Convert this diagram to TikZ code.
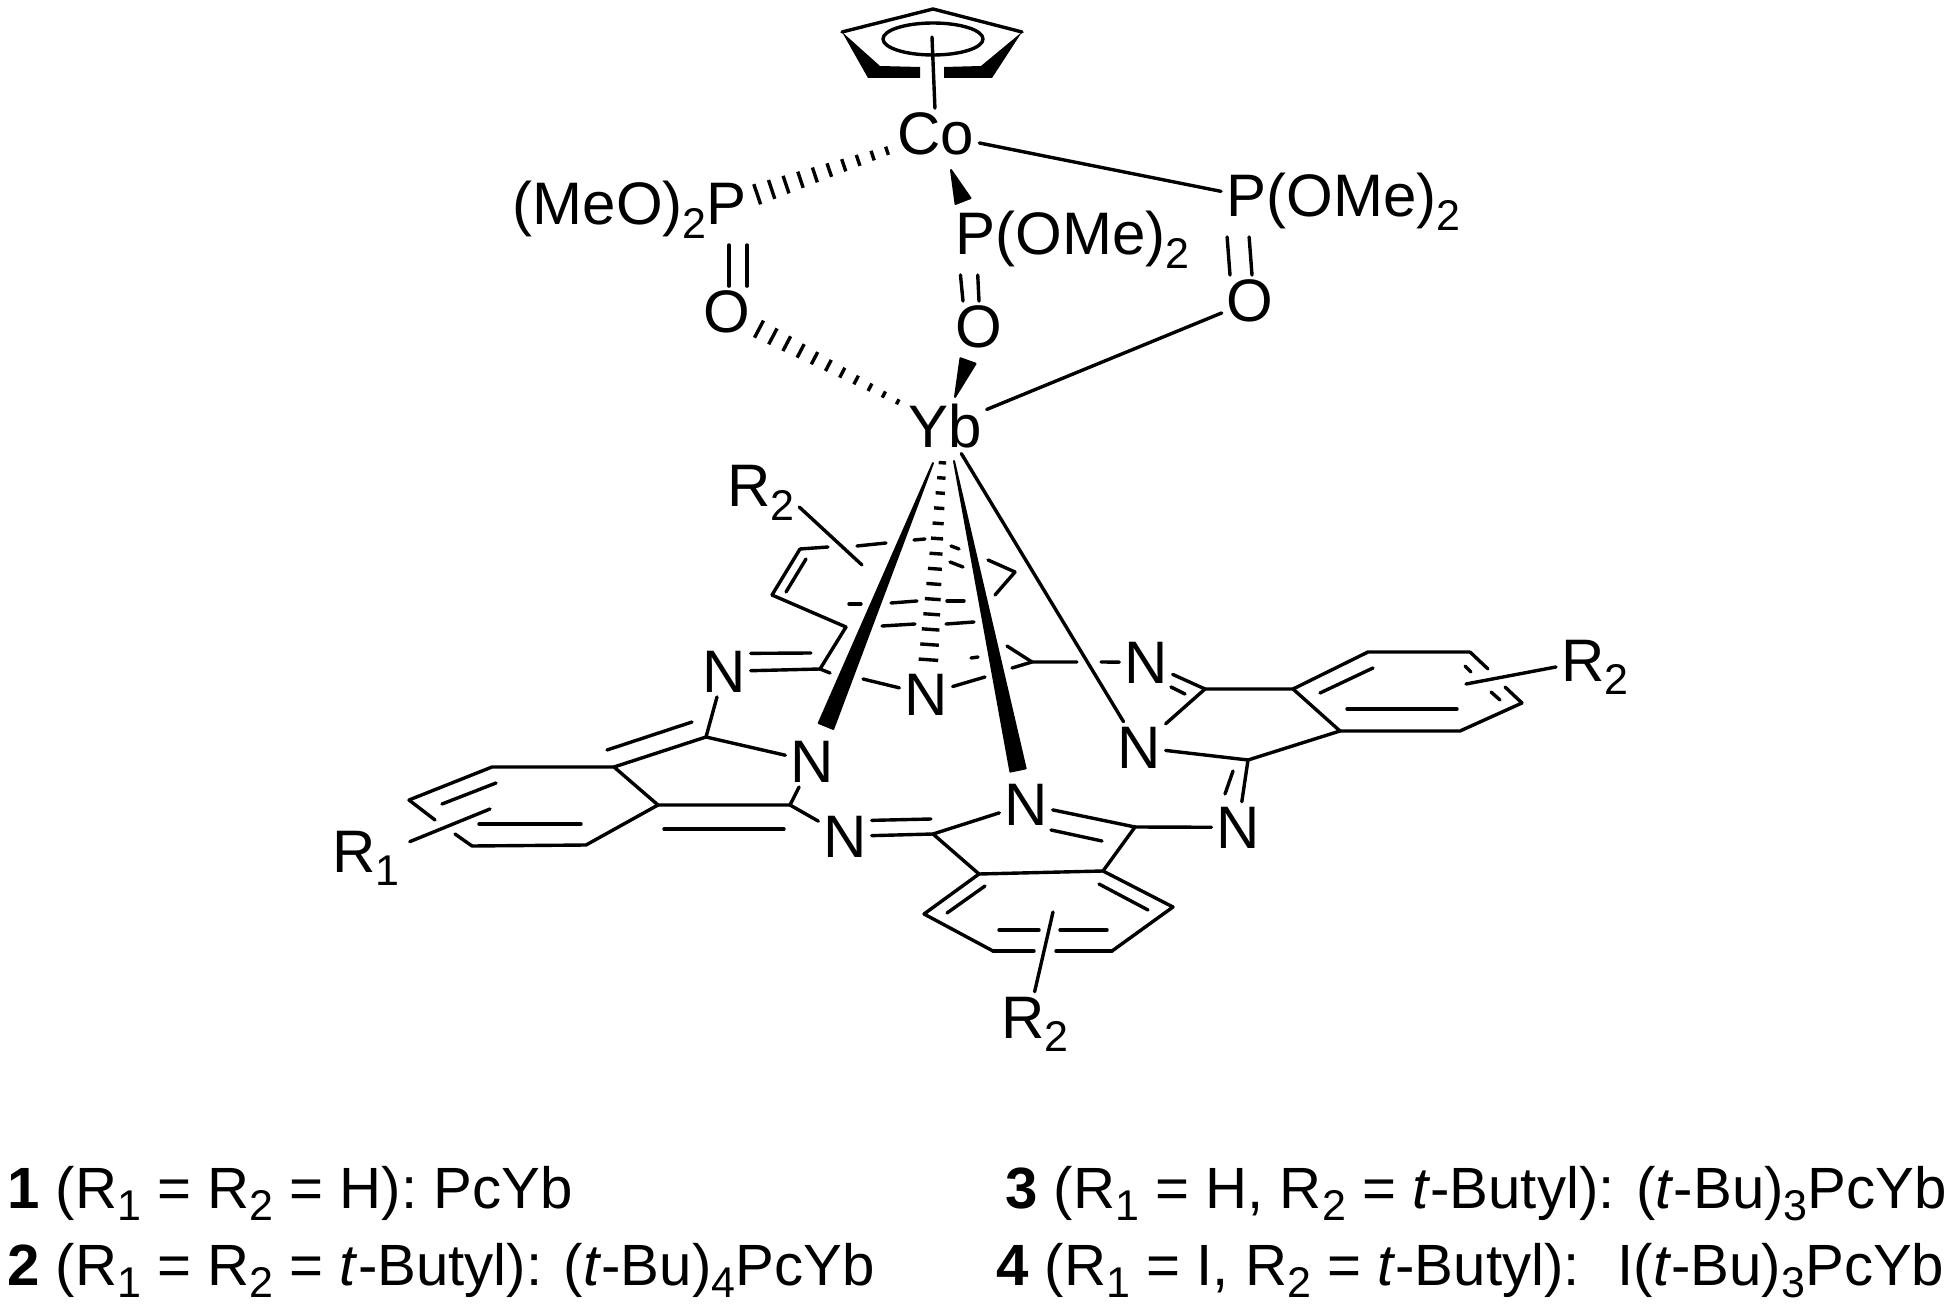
\documentclass[tikz,border=0pt]{standalone}
\usepackage{fontspec}
\setmainfont{Liberation Sans}
\usetikzlibrary{calc}
\newcommand{\chemfont}{\fontsize{30pt}{36pt}\selectfont}
\newcommand{\legfont}{\fontsize{29.1pt}{35pt}\selectfont}
\newcommand{\sbs}[1]{\raisebox{-.22em}{\fontsize{21.5pt}{24pt}\selectfont #1}}
\newcommand{\hashbond}[5]{%
\foreach \i in {1,...,#3} {
\pgfmathsetmacro{\hpos}{(\i-0.5)/#3}
\pgfmathsetmacro{\hwid}{#4+(#5-#4)*\hpos}
\draw [hash] ($(#1)!\hpos!(#2)!\hwid pt!90:(#2)$) -- ($(#1)!\hpos!(#2)!\hwid pt!-90:(#2)$);
}}
\newcommand{\wedgebond}[3]{\filldraw [line width=1pt,line join=round] (#1) -- ($(#2)!#3!90:(#1)$) -- ($(#2)!#3!-90:(#1)$) -- cycle;}
\tikzset{
atom/.style={anchor=base,inner sep=0pt,outer sep=2.5pt,font=\chemfont},
tail/.style={anchor=base west,inner sep=0pt,font=\chemfont},
legend/.style={anchor=base west,inner sep=0pt,font=\legfont},
bond/.style={line width=1.7pt,line cap=round,line join=round},
hash/.style={line width=1.7pt},
pobond/.style={bond,shorten <=7.5pt}
}
\begin{document}
\begin{tikzpicture}[x=0.5pt,y=-0.5pt]
\useasboundingbox (0,0) rectangle (1960,1310);
% the atoms
\node [atom] (co) at (936,155) {Co};
\node [atom] (pl) at (727,225) {P};
\node [tail,anchor=base east] (meol) at (707,225) {(MeO)\sbs{2}};
\node [atom] (pm) at (975,255) {P};
\node [tail] (omem) at (995,255) {(OMe)\sbs{2}};
\node [atom] (pr) at (1246,217) {P};
\node [tail] (omer) at (1266,217) {(OMe)\sbs{2}};
\node [atom] (ol) at (727,333) {O};
\node [atom] (om) at (979,348) {O};
\node [atom] (or) at (1250,322) {O};
\node [atom] (yb) at (945,448) {Yb};
\node [atom] (nl) at (724,692) {N};
\node [atom] (nc) at (926,715) {N};
\node [atom] (nu) at (1146,683) {N};
\node [atom] (nd) at (1139,768) {N};
\node [atom] (na) at (812,782) {N};
\node [atom] (nb) at (845,857) {N};
\node [atom] (ne) at (1026,825) {N};
\node [atom] (nf) at (1238,848) {N};
\node [atom,anchor=base west] (rtwoa) at (722,507) {R\sbs{2}};
\node [atom,anchor=base west] (rone) at (327,872) {R\sbs{1}};
\node [atom,anchor=base west] (rtwob) at (996,1038) {R\sbs{2}};
\node [atom,anchor=base west] (rtwoc) at (1556,681) {R\sbs{2}};

% the carbons
\coordinate (ca) at (820,669);
\coordinate (cb) at (706,737);
\coordinate (cc) at (614,767);
\coordinate (cd) at (658,805);
\coordinate (ce) at (790,805);
\coordinate (cf) at (492,767);
\coordinate (cg) at (409,800);
\coordinate (ch) at (472,846);
\coordinate (ci) at (586,845);
\coordinate (cj) at (933,834);
\coordinate (ck) at (979,874);
\coordinate (cl) at (924,914);
\coordinate (cm) at (993,951);
\coordinate (cn) at (1112,951);
\coordinate (co1) at (1173,907);
\coordinate (cp) at (1103,871);
\coordinate (cq) at (1135,827);
\coordinate (cr) at (1248,760);
\coordinate (cs) at (1340,731);
\coordinate (ct) at (1293,689);
\coordinate (cu) at (1205,689);
\coordinate (cv) at (1460,731);
\coordinate (cw) at (1522,703);
\coordinate (cx) at (1470,652);
\coordinate (cy) at (1368,652);
\coordinate (cz) at (1032,662);

% the cyclopentadienyl
\draw [bond] (842,32) -- (933,9) -- (1022,32);
\fill (842,32) -- (868,78) -- (920,78) -- (920,67) -- (880,66) -- cycle;
\fill (1022,32) -- (992,78) -- (944,78) -- (944,67) -- (981,66) -- cycle;
\draw [bond] (933,39) ellipse [x radius=50,y radius=16];
\coordinate (cpc) at (932,37);
\draw [bond] (cpc) -- (co);

% the phosphonates
\draw [bond] (co) -- (pr);
\draw [pobond] ([xshift=1pt]pl.south) -- ([xshift=1pt]ol.north);
\draw [pobond] ([xshift=10pt]pl.south) -- ([xshift=10pt]ol.north);
\draw [pobond] ([xshift=-8pt]pm.south) -- ([xshift=-8pt]om.north);
\draw [pobond] ([xshift=1pt]pm.south) -- (om.north);
\draw [pobond] ([xshift=-10pt]pr.south) -- ([xshift=-10pt]or.north);
\draw [pobond] ([xshift=1pt]pr.south) -- ([xshift=1pt]or.north);
\draw [bond] (or) -- (yb);
\coordinate (wa) at (951,170);
\coordinate (wb) at (963,201);
\wedgebond{wa}{wb}{4pt}
\coordinate (wc) at (955,397);
\coordinate (wd) at (968,361);
\wedgebond{wc}{wd}{4pt}
\coordinate (ha) at ($(co)!.20!(pl)$);
\coordinate (hb) at ($(co)!.89!(pl)$);
\hashbond{ha}{hb}{10}{2}{5.5}
\coordinate (hc) at ($(ol)!.115!(yb)$);
\coordinate (hd) at ($(ol)!.815!(yb)$);
\hashbond{hc}{hd}{11}{5}{1.25}

% the bonds down from Yb
\coordinate (we) at (933,463);
\coordinate (wf) at (826,726);
\wedgebond{we}{wf}{3.9pt}
\coordinate (wg) at (954,461);
\coordinate (wh) at (1018,770);
\wedgebond{wg}{wh}{3.9pt}
\draw [bond] (yb) -- (nd);
\coordinate (he) at ($(yb)!.107!(nc)$);
\coordinate (hf) at ($(yb)!.899!(nc)$);
\hashbond{he}{hf}{14}{1.75}{5}

% the macrocycle
\draw [bond] (nl) -- (ca);
\draw [bond] (nl) -- (cb) -- (na);
\draw [bond] (cb) -- (cc) -- (cd) -- (ce) -- (na);
\draw [bond] (ce) -- (nb);
\draw [bond] (cc) -- (cf) -- (cg);
\draw [bond] (ch) -- (ci) -- (cd);
\draw [bond] (nb) -- (cj) -- (ne);
\draw [bond] (cj) -- (ck) -- (cl) -- (cm);
\draw [bond] (cn) -- (co1) -- (cp) -- (ck);
\draw [bond] (cp) -- (cq) -- (ne);
\draw [bond] (cq) -- (nf);
\draw [bond] (nf) -- (cr) -- (nd);
\draw [bond] (cr) -- (cs) -- (ct) -- (cu) -- (nd);
\draw [bond] (cu) -- (nu);
\draw [bond] (cs) -- (cv) -- (cw);
\draw [bond] (ct) -- (cy) -- (cx);
\draw [bond] ([yshift=9pt]nl.east) -- (811,653);
\draw [bond] ([yshift=8pt]nb.east) -- (931,819);

% the hidden ring and the short pieces
\foreach \xa/\ya/\xb/\yb in {828/547/800/549,800/549/772/595,772/595/846/627,846/627/820/669,820/669/830/673,
857/546/886/543,914/540/925/539,951/546/959/549,950/562/963/567,988/560/1015/572,1015/572/995/595,
849/604/861/604,891/603/917/601,947/601/964/601,882/626/915/624,946/624/974/622,
971/658/978/657} {
\draw [bond] (\xa,\ya) -- (\xb,\yb);
}
\draw [bond] (1012,668) -- (cz) -- (1077,662);
\draw [bond] (cz) -- (1007,646);
\coordinate (nua) at (1101,662);
\draw [bond] (nu) -- (nua);
\coordinate (nca) at (863,679);
\coordinate (ncb) at (985,677);
\draw [bond] (nc) -- (nca);
\draw [bond] (nc) -- (ncb);

% the inner lines of the double bonds
\foreach \xa/\ya/\xb/\yb in {806/559/786/592,607/750/692/722,664/829/784/829,442/804/496/783,
479/824/581/824,435/820/409/800,455/834/472/846,985/886/947/913,1099/884/1148/910,999/930/1039/930,
1060/930/1107/930,993/951/1034/951,1056/951/1112/951,1051/830/1102/841,1233/771/1225/794,
1171/687/1185/694,1320/693/1373/668,1347/709/1457/709,1491/692/1500/700,1465/666/1471/672,
1505/687/1522/703,1470/652/1488/669} {
\draw [bond] (\xa,\ya) -- (\xb,\yb);
}

% the substituents
\coordinate (ra) at (862,565);
\coordinate (rb) at (490,809);
\coordinate (rc) at (1053,912);
\coordinate (rd) at (1466,684);
\draw [bond] (rtwoa.-20) -- (ra);
\draw [bond,shorten <=3pt] (rone.20) -- (rb);
\draw [bond] (rtwob.north) -- (rc);
\draw [bond] (rtwoc.west) -- (rd);

% the legend
\node [legend] (leg1) at (7,1208) {\textbf{1} (R\sbs{1} = R\sbs{2} = H): PcYb};
\node [legend] (leg2) at (7,1285) {\textbf{2} (R\sbs{1} = R\sbs{2} = \textit{t}-Butyl): (\textit{t}-Bu)\sbs{4}PcYb};
\node [legend] (leg3) at (1005,1208) {\textbf{3} (R\sbs{1} = H, R\sbs{2} = \textit{t}-Butyl): (\textit{t}-Bu)\sbs{3}PcYb};
\node [legend] (leg4) at (996,1285) {\textbf{4} (R\sbs{1} = I, R\sbs{2} = \textit{t}-Butyl):~ I(\textit{t}-Bu)\sbs{3}PcYb};
\end{tikzpicture}
\end{document}
